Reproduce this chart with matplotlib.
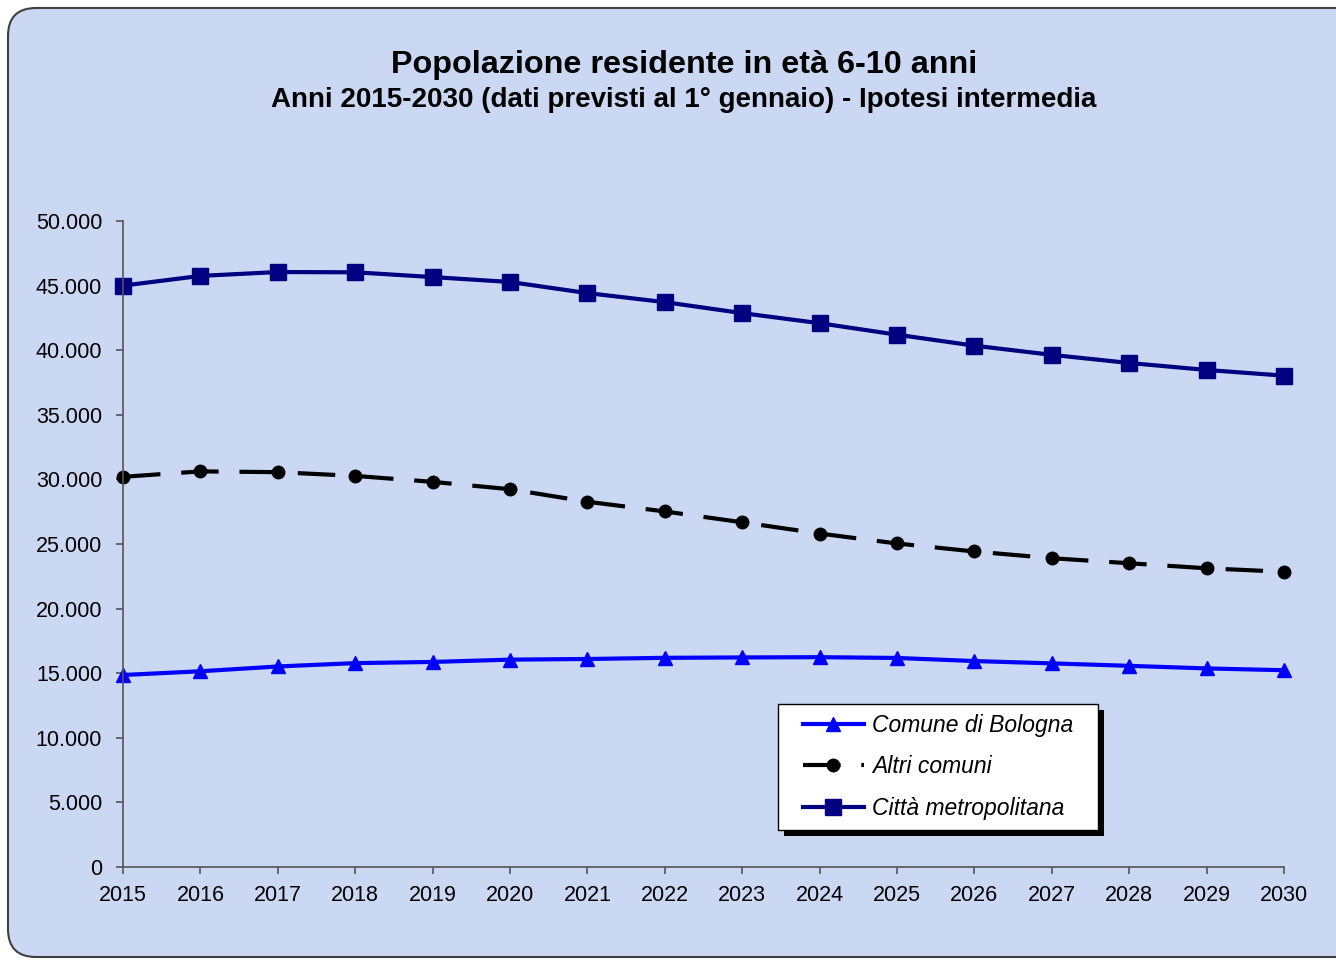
import matplotlib
matplotlib.use("Agg")
import matplotlib.pyplot as plt
from matplotlib.patches import FancyBboxPatch, Rectangle
from matplotlib.transforms import IdentityTransform
from matplotlib.ticker import FuncFormatter

plt.rcParams['font.family'] = ['Liberation Sans', 'DejaVu Sans']

# Data
anni = list(range(2015, 2031))
comune_bologna = [14860, 15150, 15520, 15780, 15870, 16050, 16100, 16190,
                  16220, 16240, 16180, 15940, 15760, 15570, 15370, 15230]
altri_comuni = [30200, 30620, 30560, 30270, 29810, 29240, 28270, 27520,
                26680, 25810, 25040, 24420, 23900, 23510, 23120, 22850]
citta_metro = [45000, 45750, 46050, 46030, 45660, 45280, 44420, 43720,
               42870, 42090, 41200, 40350, 39640, 39010, 38470, 38030]

W, H = 1336, 961
fig = plt.figure(figsize=(W / 100, H / 100), dpi=100)
fig.patch.set_facecolor('white')

# rounded background panel
panel = FancyBboxPatch((8, 4), W + 40, H - 12,
                       boxstyle="round,pad=0,rounding_size=28",
                       transform=IdentityTransform(), zorder=-5,
                       facecolor='#cbd8f3', edgecolor='#404040', linewidth=1.5)
fig.patches.append(panel)

ax = fig.add_axes([123 / W, 1 - 867 / H, (1284 - 123) / W, (867 - 221) / H])
ax.set_facecolor('none')

ax.plot(anni, comune_bologna, color='#0000ff', lw=3, marker='^', ms=10,
        label='Comune di Bologna', clip_on=False)
ax.plot(anni, altri_comuni, color='black', lw=3, ls=(0, (9, 5)), marker='o', ms=9,
        label='Altri comuni', clip_on=False)
ax.plot(anni, citta_metro, color='#000080', lw=3, marker='s', ms=11,
        label='Città metropolitana', clip_on=False)

ax.set_xlim(2015, 2030)
ax.set_ylim(0, 50000)
ax.set_xticks(anni)
ax.set_yticks(range(0, 50001, 5000))
ax.yaxis.set_major_formatter(FuncFormatter(lambda v, p: f"{int(v):,}".replace(',', '.')))

for s in ['top', 'right']:
    ax.spines[s].set_visible(False)
for s in ['left', 'bottom']:
    ax.spines[s].set_color('#555555')
    ax.spines[s].set_linewidth(1.2)
ax.tick_params(axis='both', colors='#555555', labelcolor='black', length=5, width=1.2,
               labelsize=15.5)
ax.tick_params(axis='y', pad=10)
ax.tick_params(axis='x', pad=8)

# legend frame with shadow, drawn as separate boxes
box_x0, box_x1 = 0.564, 0.840
box_y0, box_y1 = 0.057, 0.252
ax.add_patch(Rectangle((box_x0 + 0.005, box_y0 - 0.009), box_x1 - box_x0, box_y1 - box_y0,
                       transform=ax.transAxes, facecolor='black', edgecolor='none',
                       zorder=4, clip_on=False))
ax.add_patch(Rectangle((box_x0, box_y0), box_x1 - box_x0, box_y1 - box_y0,
                       transform=ax.transAxes, facecolor='white', edgecolor='black',
                       linewidth=1.0, zorder=4.5, clip_on=False))

leg = ax.legend(loc='center left', bbox_to_anchor=(0.5857, 0.1548), borderaxespad=0,
                borderpad=0, numpoints=1, handlelength=2.65, handletextpad=0.35,
                labelspacing=0.8, frameon=False,
                prop={'style': 'italic', 'size': 16.5})
leg.set_zorder(6)

fig.text(684 / W, 1 - 65 / H, 'Popolazione residente in età 6-10 anni',
         ha='center', va='center', fontsize=23.3, fontweight='bold')
fig.text(684 / W, 1 - 100 / H, 'Anni 2015-2030 (dati previsti al 1° gennaio) - Ipotesi intermedia',
         ha='center', va='center', fontsize=20, fontweight='bold')

fig.savefig('out.png', dpi=100)
